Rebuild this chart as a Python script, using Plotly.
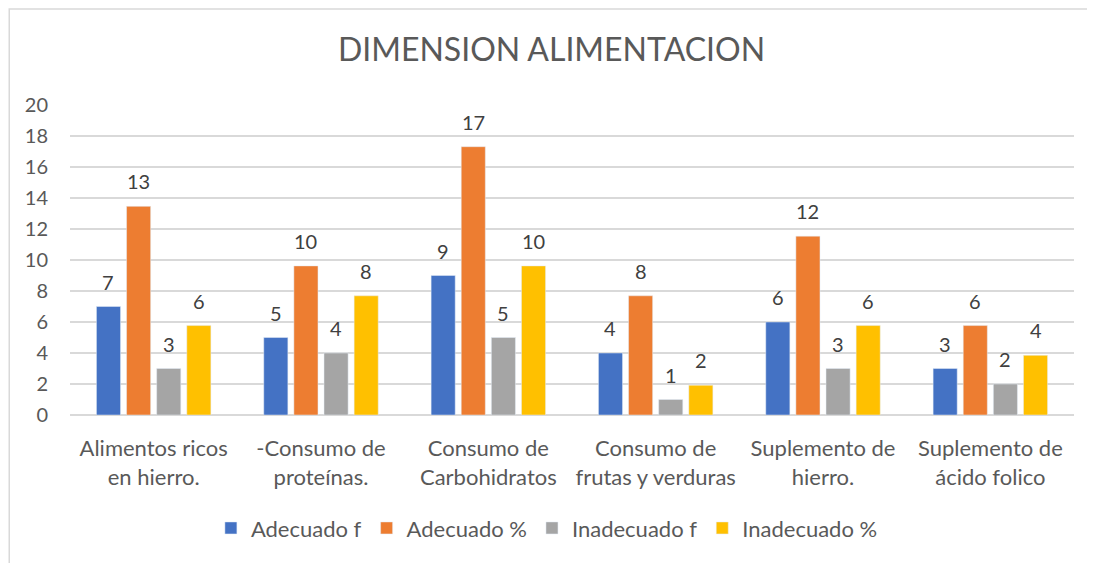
import plotly.graph_objects as go

categories = ["Alimentos ricos<br>en hierro.", "-Consumo de<br>proteínas.", "Consumo de<br>Carbohidratos",
              "Consumo de<br>frutas y verduras", "Suplemento de<br>hierro.", "Suplemento de<br>ácido folico"]
adecuado_f = [7, 5, 9, 4, 6, 3]
adecuado_pct = [13.46, 9.62, 17.31, 7.69, 11.54, 5.77]
inadecuado_f = [3, 4, 5, 1, 3, 2]
inadecuado_pct = [5.77, 7.69, 9.62, 1.92, 5.77, 3.85]
y_ticks = [0, 2, 4, 6, 8, 10, 12, 14, 16, 18, 20]

series = [
    ("Adecuado f", adecuado_f, "#4472C4"),
    ("Adecuado %", adecuado_pct, "#ED7D31"),
    ("Inadecuado f", inadecuado_f, "#A5A5A5"),
    ("Inadecuado %", inadecuado_pct, "#FFC000"),
]

W, H = 1087, 555
ML, MR, MT, MB = 62, 21, 97, 148
BARGAP = 0.28

font_fam = "Lato, 'Open Sans', sans-serif"
fig = go.Figure()
for name, vals, color in series:
    fig.add_trace(go.Bar(
        x=categories, y=vals, name=name, marker_color=color,
    ))

# data labels placed above each bar, shifted to its slot within the group
cat_px = (W - ML - MR) / len(categories)
slot_px = cat_px * (1 - BARGAP) / len(series)
annotations = []
for i, (name, vals, color) in enumerate(series):
    xs = (i - (len(series) - 1) / 2) * slot_px
    for c, v in zip(categories, vals):
        annotations.append(dict(x=c, y=v, xref="x", yref="y", text=f"{v:.0f}", showarrow=False,
                                xshift=xs, yshift=11, yanchor="bottom", xanchor="center",
                                font=dict(size=20, color="#404040", family=font_fam)))

fig.update_layout(
    width=W, height=H,
    paper_bgcolor="white", plot_bgcolor="white",
    font=dict(family=font_fam, color="#595959", size=20),
    title=dict(text="DIMENSION ALIMENTACION", x=0.5, xanchor="center", y=0.924, yanchor="middle",
               font=dict(size=32, color="#595959", family=font_fam)),
    margin=dict(l=ML, r=MR, t=MT, b=MB, autoexpand=False),
    barmode="group", bargap=BARGAP, bargroupgap=0.2,
    legend=dict(orientation="h", x=0.475, xanchor="center", y=-0.365, yanchor="middle",
                font=dict(size=22, color="#595959"), traceorder="normal"),
    showlegend=True,
    annotations=annotations,
)
fig.update_yaxes(range=[0, 20], tickvals=y_ticks, showgrid=True, gridcolor="#D9D9D9", gridwidth=1.5,
                 zeroline=True, zerolinecolor="#D9D9D9", zerolinewidth=1.5, automargin=False,
                 tickfont=dict(size=20, color="#595959"), ticks="", ticklabelstandoff=21)
fig.update_xaxes(showline=False, tickfont=dict(size=22, color="#595959"), ticks="", automargin=False,
                 ticklabelstandoff=18)

fig.add_shape(type="rect", xref="paper", yref="paper", x0=-0.0605, x1=1.016, y0=-0.52, y1=1.31,
              line=dict(color="#D9D9D9", width=1.5), fillcolor="rgba(0,0,0,0)", layer="below")

fig.write_html("out.html")
